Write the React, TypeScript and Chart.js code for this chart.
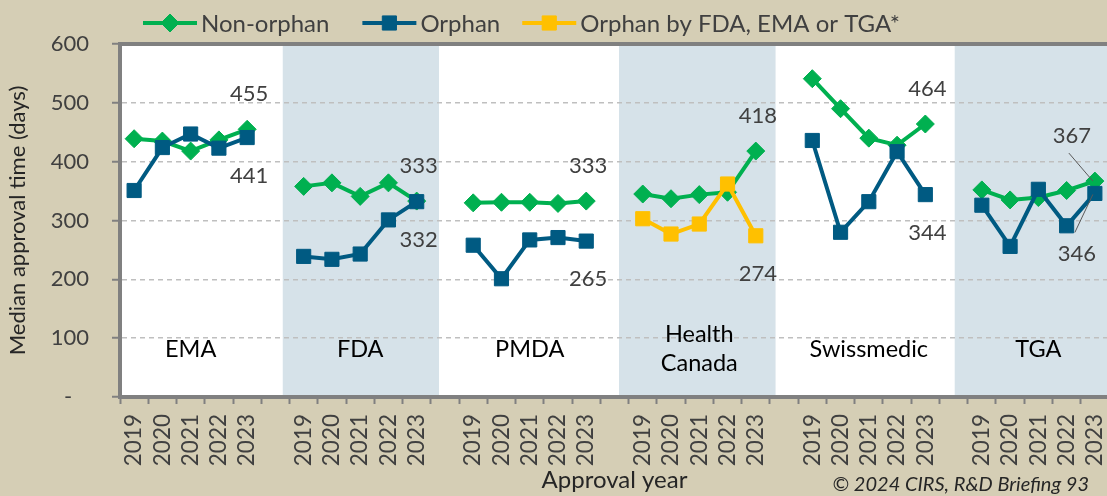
import React, { useEffect, useRef } from 'react';
import { Chart, registerables } from 'chart.js';

Chart.register(...registerables);

// ---------- data ----------
const years = ['2019', '2020', '2021', '2022', '2023'];
const agencies = ['EMA', 'FDA', 'PMDA', 'Health\nCanada', 'Swissmedic', 'TGA'];
const seriesNames = ['Non-orphan', 'Orphan', 'Orphan by FDA, EMA or TGA*'];

const emaNonOrphan = [439, 435, 418, 437, 455];
const emaOrphan = [351, 424, 447, 423, 441];
const fdaNonOrphan = [358, 364, 341, 364, 333];
const fdaOrphan = [239, 234, 243, 301, 332];
const pmdaNonOrphan = [330, 331, 331, 329, 333];
const pmdaOrphan = [258, 201, 267, 271, 265];
const hcNonOrphan = [345, 337, 344, 348, 418];
const hcOrphanFdaEmaTga = [303, 277, 294, 362, 274];
const swissNonOrphan = [541, 490, 440, 428, 464];
const swissOrphan = [436, 280, 332, 417, 344];
const tgaNonOrphan = [352, 335, 339, 351, 367];
const tgaOrphan = [326, 256, 353, 291, 346];

const yMin = 0;
const yMax = 600;
const yStep = 100;

// which 2023 values carry a value label, and where
const valueLabels = [
  { series: 0, agency: 0, place: 'above' },
  { series: 1, agency: 0, place: 'below' },
  { series: 0, agency: 1, place: 'above' },
  { series: 1, agency: 1, place: 'below' },
  { series: 0, agency: 2, place: 'above' },
  { series: 1, agency: 2, place: 'below' },
  { series: 0, agency: 3, place: 'above' },
  { series: 2, agency: 3, place: 'below' },
  { series: 0, agency: 4, place: 'above' },
  { series: 1, agency: 4, place: 'below' },
  { series: 0, agency: 5, place: 'leaderAbove' },
  { series: 1, agency: 5, place: 'leaderBelow' },
];

// ---------- styles ----------
const FONT = 'Lato, "Open Sans", sans-serif';
const BG = '#d5ceb5';
const BAND = '#d6e2e9';
const AXIS = '#808080';
const GRID = '#bfbfbf';
const TEXT = '#404040';
const TITLE = '#262626';
const GREEN = '#00b050';
const BLUE = '#005a82';
const YELLOW = '#ffc000';
// shaded bands behind FDA, Health Canada and TGA (in category units)
const bandSpans = [
  [5.26, 10.79],
  [17.16, 22.7],
  [29.04, 35.5],
];
const legendGaps = [33, 22];

// ---------- derived ----------
const nonOrphanGroups = [emaNonOrphan, fdaNonOrphan, pmdaNonOrphan, hcNonOrphan, swissNonOrphan, tgaNonOrphan];
const orphanGroups = [emaOrphan, fdaOrphan, pmdaOrphan, null, swissOrphan, tgaOrphan];
const orphanOtherGroups = [null, null, null, hcOrphanFdaEmaTga, null, null];

const groupStart = (gi: number) => gi * (years.length + 1);

function spread(groups: (number[] | null)[]) {
  const out: (number | null)[] = [];
  groups.forEach((g, gi) => {
    if (gi > 0) out.push(null);
    years.forEach((_, k) => out.push(g ? g[k] : null));
  });
  return out;
}

const categoryLabels: string[] = [];
agencies.forEach((_, gi) => {
  if (gi > 0) categoryLabels.push('');
  years.forEach((yr) => categoryLabels.push(yr));
});

function drawMarker(ctx: CanvasRenderingContext2D, style: string, x: number, y: number, r: number, color: string) {
  ctx.save();
  ctx.fillStyle = color;
  ctx.strokeStyle = color;
  ctx.lineWidth = 1;
  ctx.beginPath();
  if (style === 'rectRot') {
    ctx.moveTo(x - r, y);
    ctx.lineTo(x, y - r);
    ctx.lineTo(x + r, y);
    ctx.lineTo(x, y + r);
    ctx.closePath();
  } else {
    const s = r * Math.SQRT1_2;
    ctx.rect(x - s, y - s, 2 * s, 2 * s);
  }
  ctx.fill();
  ctx.stroke();
  ctx.restore();
}

const decorPlugin = {
  id: 'decor',
  beforeDraw(chart: any) {
    const { ctx, chartArea: a, scales } = chart;
    const x = scales.x;
    ctx.save();
    ctx.fillStyle = BG;
    ctx.fillRect(0, 0, chart.width, chart.height);
    ctx.fillStyle = '#ffffff';
    ctx.fillRect(a.left, a.top, a.right - a.left, a.bottom - a.top);
    ctx.fillStyle = BAND;
    bandSpans.forEach(([s, e]) => {
      const x0 = Math.max(a.left, x.getPixelForValue(s));
      const x1 = Math.min(chart.width, x.getPixelForValue(e));
      ctx.fillRect(x0, a.top, x1 - x0, a.bottom - a.top);
    });
    ctx.restore();
  },
  beforeDatasetsDraw(chart: any) {
    const { ctx, chartArea: a, scales } = chart;
    const x = scales.x;
    const y = scales.y;
    ctx.save();
    // top frame line
    ctx.strokeStyle = AXIS;
    ctx.lineWidth = 4;
    ctx.beginPath();
    ctx.moveTo(a.left - 2, a.top);
    ctx.lineTo(chart.width, a.top);
    ctx.stroke();
    // regulator names
    ctx.fillStyle = '#000000';
    ctx.font = `23.5px ${FONT}`;
    ctx.textAlign = 'center';
    ctx.textBaseline = 'alphabetic';
    const base = y.getPixelForValue(68.5);
    agencies.forEach((name, gi) => {
      const cx = x.getPixelForValue(groupStart(gi) + 2);
      const lines = name.split('\n');
      lines.forEach((ln, li) => {
        const yy = base - ((lines.length - 1) * 29) / 2 + li * 29;
        ctx.fillText(ln, cx, yy);
      });
    });
    ctx.restore();
  },
  afterDatasetsDraw(chart: any) {
    const { ctx } = chart;
    ctx.save();
    ctx.font = `22px ${FONT}`;
    ctx.fillStyle = TEXT;
    ctx.textAlign = 'center';
    ctx.textBaseline = 'middle';
    valueLabels.forEach((vl) => {
      const idx = groupStart(vl.agency) + 4;
      const pt = chart.getDatasetMeta(vl.series).data[idx];
      const val = chart.data.datasets[vl.series].data[idx];
      if (!pt || val == null) return;
      let lx = pt.x + 2;
      let ly = pt.y;
      if (vl.place === 'above') ly = pt.y - 36;
      else if (vl.place === 'below') ly = pt.y + 37;
      else if (vl.place === 'leaderAbove') {
        lx = pt.x - 23;
        ly = pt.y - 46;
        ctx.strokeStyle = '#595959';
        ctx.lineWidth = 1;
        ctx.beginPath();
        ctx.moveTo(lx - 3, ly + 18);
        ctx.lineTo(pt.x - 2, pt.y);
        ctx.stroke();
      } else if (vl.place === 'leaderBelow') {
        lx = pt.x - 18;
        ly = pt.y + 59;
        ctx.strokeStyle = '#595959';
        ctx.lineWidth = 1;
        ctx.beginPath();
        ctx.moveTo(lx - 2, ly - 20);
        ctx.lineTo(pt.x - 2, pt.y + 1);
        ctx.stroke();
      }
      ctx.fillText(String(val), lx, ly + 1);
    });
    ctx.restore();
  },
  afterDraw(chart: any) {
    const { ctx, chartArea: a } = chart;
    ctx.save();
    // legend
    ctx.font = `24px ${FONT}`;
    ctx.textAlign = 'left';
    ctx.textBaseline = 'middle';
    let lx = a.left + 23;
    const ly = 23;
    chart.data.datasets.forEach((ds: any, i: number) => {
      ctx.strokeStyle = ds.borderColor;
      ctx.lineWidth = 4;
      ctx.beginPath();
      ctx.moveTo(lx, ly);
      ctx.lineTo(lx + 54, ly);
      ctx.stroke();
      drawMarker(ctx, ds.pointStyle, lx + 27, ly, ds.pointRadius, ds.borderColor);
      ctx.fillStyle = TEXT;
      ctx.fillText(ds.label, lx + 58, ly + 1);
      lx += 58 + ctx.measureText(ds.label).width + (legendGaps[i] || 0);
    });
    // source note
    ctx.font = `italic 20px ${FONT}`;
    ctx.fillStyle = TITLE;
    ctx.textAlign = 'right';
    ctx.textBaseline = 'alphabetic';
    ctx.fillText('\u00a9 2024 CIRS, R&D Briefing 93', a.right - 20, 491);
    ctx.restore();
  },
};

export default function App() {
  const canvasRef = useRef<HTMLCanvasElement | null>(null);

  useEffect(() => {
    const canvas = canvasRef.current;
    if (!canvas) return;
    const chart = new Chart(canvas, {
      type: 'line',
      data: {
        labels: categoryLabels,
        datasets: [
          {
            label: seriesNames[0],
            data: spread(nonOrphanGroups),
            borderColor: GREEN,
            backgroundColor: GREEN,
            pointBackgroundColor: GREEN,
            pointBorderColor: GREEN,
            borderWidth: 4,
            pointStyle: 'rectRot',
            pointRadius: 9,
            pointBorderWidth: 1,
            spanGaps: false,
            order: 3,
          },
          {
            label: seriesNames[1],
            data: spread(orphanGroups),
            borderColor: BLUE,
            backgroundColor: BLUE,
            pointBackgroundColor: BLUE,
            pointBorderColor: BLUE,
            borderWidth: 4,
            pointStyle: 'rect',
            pointRadius: 10,
            pointBorderWidth: 1,
            spanGaps: false,
            order: 2,
          },
          {
            label: seriesNames[2],
            data: spread(orphanOtherGroups),
            borderColor: YELLOW,
            backgroundColor: YELLOW,
            pointBackgroundColor: YELLOW,
            pointBorderColor: YELLOW,
            borderWidth: 4,
            pointStyle: 'rect',
            pointRadius: 10,
            pointBorderWidth: 1,
            spanGaps: false,
            order: 1,
          },
        ],
      },
      options: {
        responsive: false,
        maintainAspectRatio: false,
        animation: false,
        events: [],
        layout: { padding: { top: 44, right: 11, left: 0, bottom: 0 } },
        plugins: {
          legend: { display: false },
          tooltip: { enabled: false },
          title: { display: false },
        },
        scales: {
          x: {
            type: 'category',
            offset: true,
            grid: {
              display: true,
              drawOnChartArea: false,
              drawTicks: true,
              offset: true,
              tickLength: 7,
              tickWidth: 2,
              tickColor: AXIS,
              color: AXIS,
            },
            border: { display: true, color: AXIS, width: 4 },
            ticks: {
              autoSkip: false,
              maxRotation: 90,
              minRotation: 90,
              padding: 10,
              color: TEXT,
              font: { family: FONT, size: 22.5 },
            },
            title: {
              display: true,
              text: 'Approval year',
              color: TITLE,
              font: { family: FONT, size: 24 },
              padding: { top: 0, bottom: 1 },
            },
            afterFit: (scale: any) => {
              scale.height = 99;
              scale.paddingLeft = 0;
              scale.paddingRight = 0;
            },
          },
          y: {
            min: yMin,
            max: yMax,
            grid: {
              color: GRID,
              lineWidth: 1.5,
              drawTicks: true,
              tickLength: 8,
              tickWidth: 2,
              tickColor: AXIS,
              tickBorderDash: [],
            },
            border: { display: true, color: AXIS, width: 4, dash: [5, 4] },
            ticks: {
              stepSize: yStep,
              padding: 23,
              color: TEXT,
              font: { family: FONT, size: 22 },
              callback: (v: any) => (Number(v) === 0 ? '-   ' : String(v)),
            },
            title: {
              display: true,
              text: 'Median approval time (days)',
              color: TITLE,
              font: { family: FONT, size: 22 },
              padding: { top: 5, bottom: 0 },
            },
            afterFit: (scale: any) => {
              scale.width = 120;
            },
          },
        },
      } as any,
      plugins: [decorPlugin],
    });
    return () => chart.destroy();
  }, []);

  return (
    <div
      style={{
        position: 'fixed',
        left: 0,
        top: 0,
        width: 1107,
        height: 496,
        overflow: 'hidden',
        background: BG,
      }}
    >
      <canvas ref={canvasRef} width={1120} height={496} style={{ display: 'block' }} />
    </div>
  );
}
